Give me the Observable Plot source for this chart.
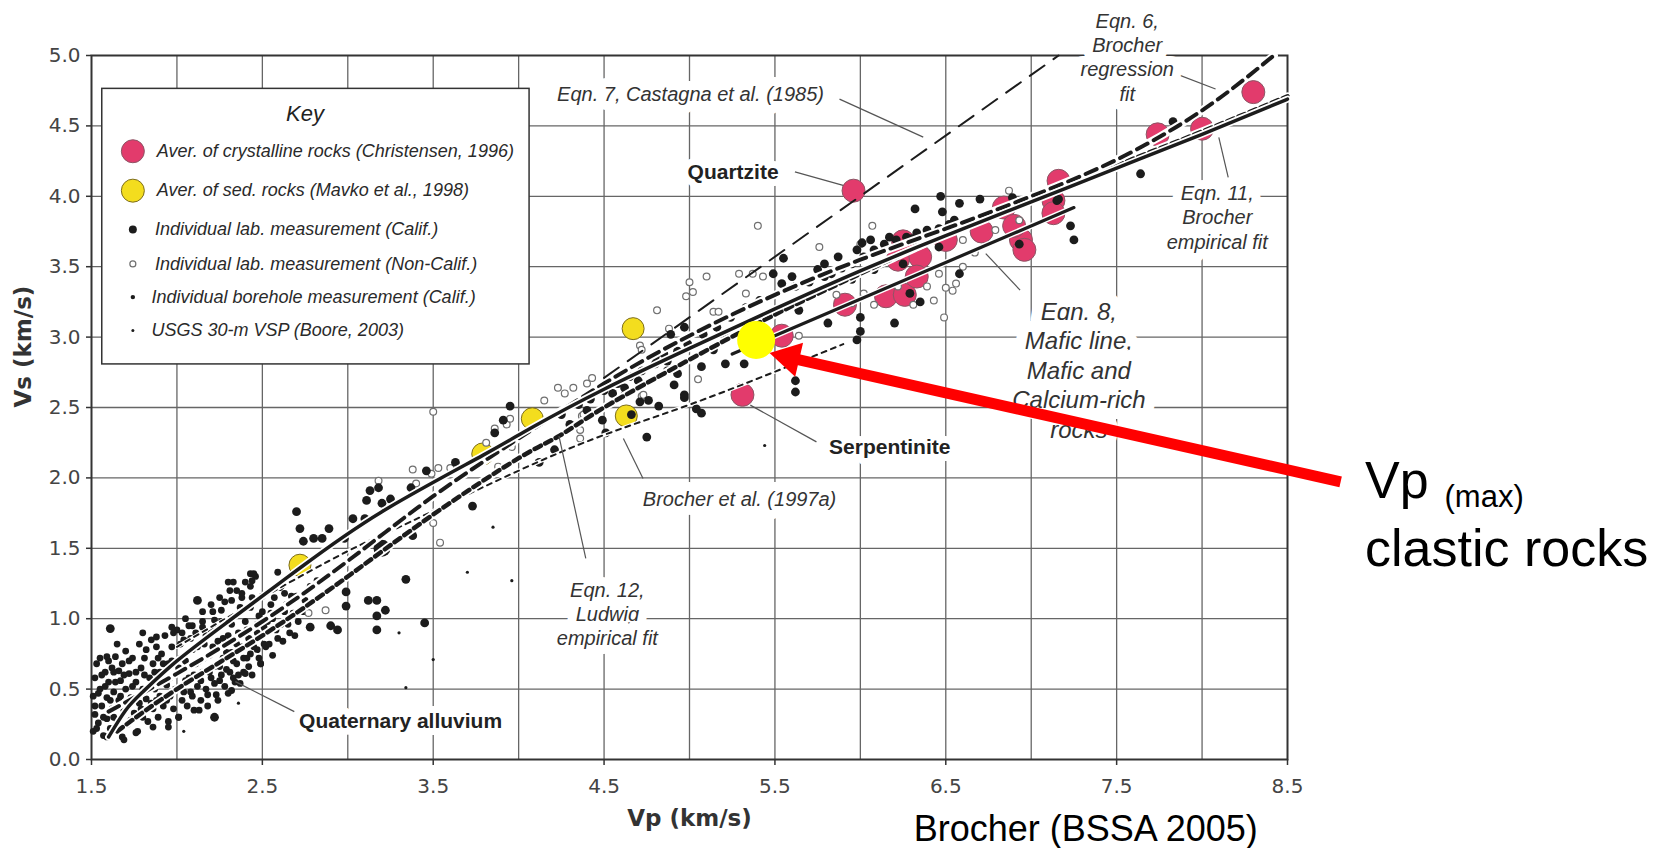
<!DOCTYPE html>
<html><head><meta charset="utf-8">
<script src="https://cdn.jsdelivr.net/npm/d3@7"></script>
<script src="https://cdn.jsdelivr.net/npm/@observablehq/plot@0.6"></script>
<style>
html,body{margin:0;padding:0;background:#fff;}
#chart svg{display:block;}
</style></head><body><div id="chart"></div>
<script>
// ---------- axes ----------
const xTickValues = [1.5,2.5,3.5,4.5,5.5,6.5,7.5,8.5];
const yTickValues = [0,0.5,1,1.5,2,2.5,3,3.5,4,4.5,5];
const xGridValues = [2,2.5,3,3.5,4,4.5,5,5.5,6,6.5,7,7.5,8];
const yGridValues = [0.5,1,1.5,2,2.5,3,3.5,4,4.5];

// ---------- point data [Vp, Vs] ----------
const crystalline = [[5.96,4.04],[5.31,2.59],[5.54,3.01],[5.91,3.23],[6.15,3.29],[6.26,3.30],[6.25,3.68],[6.35,3.57],[6.33,3.43],[6.50,3.69],[6.71,3.75],[6.84,3.92],[6.94,3.69],[6.96,3.62],[6.90,3.79],[6.22,3.55],[7.16,4.11],[7.13,3.97],[7.13,3.88],[7.74,4.44],[8.00,4.48],[8.30,4.74]];
const sedRocks = [[2.72,1.38],[3.79,2.17],[4.08,2.42],[4.67,3.06],[4.63,2.44]];
const clasticMax = [[5.39,2.98]];
const bigBlack = [[3.20,1.50]];
const califLab = [[6.47,4.00],[6.58,3.95],[6.70,3.98],[6.32,3.91],[6.48,3.89],[6.55,3.83],[6.89,3.99],[7.16,3.98],[7.23,3.79],[7.25,3.69],[6.93,3.66],[6.01,3.67],[5.55,3.56],[6.58,3.45],[6.20,3.10],[6.00,3.14],[6.00,3.04],[5.98,2.98],[5.81,3.10],[5.62,2.69],[5.62,2.61],[5.32,2.81],[5.21,2.81],[5.07,2.79],[4.93,2.74],[4.91,2.66],[4.82,2.51],[5.07,2.46],[4.97,2.57],[4.76,2.55],[4.49,2.41],[4.66,2.45],[6.29,3.31],[6.35,3.25],
[5.54,3.38],[5.62,3.36],[5.70,3.39],[5.79,3.43],[5.83,3.45],[5.89,3.49],[5.95,3.52],[6.02,3.57],[6.08,3.62],[6.14,3.66],[6.21,3.69],[6.27,3.71],[6.33,3.74],[6.39,3.76],[6.46,3.77],[6.52,3.80],[5.41,3.26],[5.33,3.21],[5.24,3.14],[5.16,3.07],[5.08,3.02],[4.99,2.95],[5.70,3.29],[5.83,3.36],[5.95,3.41],[6.08,3.48],[6.12,3.52],[6.21,3.57],[6.25,3.52],[6.33,3.64],[5.49,3.45],[5.60,3.43],[5.75,3.48],[5.87,3.57],[5.98,3.62],[6.06,3.69],[6.17,3.71],[6.30,3.70],[6.41,3.69],[6.46,3.64],[5.79,3.52],[5.64,3.19],[5.49,3.17],[5.37,3.10],[5.22,3.00],[5.14,2.91],[4.87,2.83],[4.80,2.81],[4.97,3.07],[4.89,3.02],[4.87,2.76],
[7.83,4.53],[7.64,4.16],[7.15,3.97],
[4.25,2.45],[4.35,2.52],[4.42,2.56],[4.50,2.62],[4.58,2.67],[4.65,2.72],[4.72,2.76],[4.80,2.86],[4.55,2.60],[4.40,2.48],[4.30,2.38],[4.62,2.64],[4.70,2.69],[4.85,2.88],[4.93,2.90],
[3.95,2.51],[3.91,2.41],[3.86,2.32],[3.63,2.11],[3.46,2.05],[3.37,1.93],[3.13,1.91],[3.18,1.93],[3.11,1.84],[3.20,1.82],[3.25,1.85],[3.03,1.71],[3.10,1.71],[2.70,1.76],[2.72,1.64],[2.80,1.57],[2.85,1.57],[2.89,1.64],[2.74,1.55],[2.98,1.57],[3.73,1.80],[3.38,1.59],[3.34,1.28],[2.99,1.19],[3.12,1.13],[3.17,1.13],[3.22,1.06],[3.17,1.02],[3.17,0.92],[3.45,0.97],[2.99,1.09],[2.90,0.95],[2.94,0.92],[2.78,0.94],[2.12,1.13],[1.61,0.93],[2.22,0.30],[4.12,2.11],[4.21,2.20],
[5.04,2.49],[4.75,2.29],[4.51,2.32],[4.71,2.54],[4.97,2.59]];
const nonCalifLab = [[5.40,3.79],[5.76,3.64],[6.07,3.79],[6.00,3.66],[6.87,4.04],[6.93,3.83],[6.79,3.76],[6.60,3.69],[6.67,3.60],[6.46,3.45],[6.60,3.50],[6.56,3.38],[6.50,3.35],[6.54,3.33],[6.49,3.14],[6.43,3.26],[6.31,3.23],[6.39,3.36],[6.08,3.23],[6.02,3.31],[5.95,3.24],[5.86,3.30],[5.64,3.01],[5.50,3.17],[5.33,3.31],[5.29,3.45],[5.37,3.45],[5.43,3.43],[5.10,3.43],[5.00,3.39],[5.02,3.32],[4.98,3.29],[4.81,3.19],[4.88,3.06],[5.14,3.18],[5.17,3.18],[4.71,2.94],[4.72,2.91],[5.05,2.70],[4.40,2.67],[4.43,2.71],[4.32,2.64],[4.72,2.58],[4.37,2.44],[6.22,3.36],
[3.18,1.98],[3.38,2.06],[3.40,1.96],[3.49,2.03],[3.53,2.07],[3.60,2.07],[3.50,2.47],[3.50,1.68],[3.54,1.54],[2.77,1.04],[2.87,1.06],[3.81,2.25],[3.86,2.35],[3.88,2.08],[3.93,2.38],[3.95,2.42],[3.96,2.22],
[4.36,2.28],[4.36,2.34],[4.38,2.45],[4.73,2.59],[4.62,2.59],[4.23,2.64],[4.27,2.60],[4.15,2.55]];
const borehole = [[1.51,0.20],[1.51,0.45],[1.52,0.32],[1.52,0.58],[1.53,0.68],[1.54,0.26],[1.55,0.50],[1.55,0.72],[1.56,0.38],[1.57,0.17],[1.58,0.62],[1.59,0.29],[1.59,0.44],[1.60,0.55],[1.60,0.70],
[1.61,0.22],[1.62,0.36],[1.63,0.48],[1.63,0.62],[1.64,0.73],[1.65,0.28],[1.66,0.42],[1.67,0.56],[1.68,0.16],[1.68,0.68],[1.69,0.35],[1.70,0.50],[1.70,0.77],
[1.71,0.25],[1.72,0.61],[1.73,0.44],[1.74,0.72],[1.75,0.33],[1.76,0.55],[1.77,0.20],[1.78,0.82],[1.78,0.40],[1.79,0.65],[1.80,0.30],[1.80,0.50],
[1.81,0.72],[1.82,0.43],[1.83,0.27],[1.84,0.58],[1.85,0.85],[1.86,0.36],[1.86,0.68],[1.87,0.50],[1.88,0.80],[1.89,0.30],[1.90,0.45],[1.90,0.62],
[1.91,0.75],[1.92,0.38],[1.93,0.88],[1.94,0.53],[1.95,0.27],[1.95,0.68],[1.96,0.45],[1.97,0.80],[1.98,0.36],[1.99,0.60],[2.00,0.50],[2.00,0.92],
[2.01,0.30],[2.02,0.72],[2.03,0.42],[2.04,0.85],[2.05,0.56],[2.06,0.38],[2.06,0.66],[2.07,0.95],[2.08,0.48],[2.09,0.78],[2.10,0.60],[2.10,0.35],
[2.11,0.90],[2.12,0.52],[2.13,0.70],[2.14,0.42],[2.15,0.98],[2.15,0.62],[2.16,0.82],[2.17,0.50],[2.18,0.38],[2.19,0.74],[2.20,0.58],[2.20,0.92],
[2.21,1.05],[2.22,0.66],[2.23,0.46],[2.24,0.84],[2.25,0.56],[2.26,0.98],[2.27,0.72],[2.28,0.52],[2.28,1.12],[2.29,0.64],[2.30,0.88],[2.30,0.47],
[2.31,1.20],[2.32,0.76],[2.33,0.58],[2.34,1.02],[2.35,0.68],[2.36,0.90],[2.37,0.54],[2.38,1.15],[2.38,0.80],[2.39,0.62],[2.40,0.98],[2.40,1.26],
[2.41,0.72],[2.42,0.86],[2.43,1.08],[2.44,0.60],[2.45,0.94],[2.46,1.30],[2.47,0.78],[2.48,1.02],[2.49,0.68],[2.50,0.88],[2.50,1.16],
[2.52,0.80],[2.53,0.98],[2.55,1.10],[2.56,0.74],[2.58,0.92],[2.60,1.22],[2.62,0.84],[2.63,1.05],[2.65,0.96],[2.67,1.16],[2.69,0.88],
[2.30,1.26],[2.33,1.26],[2.43,1.32],[2.44,1.27],[2.59,1.33],[2.61,1.23],[2.63,1.18],[2.70,1.16],[2.75,1.13],[2.78,1.23],[2.82,1.27],[2.55,1.04],[2.51,0.94],[2.47,0.90],[2.51,0.82],[2.49,0.68],[2.40,0.61],[2.34,0.55],[2.32,0.49],[2.43,0.75],[2.43,0.85],[2.24,0.42],[2.13,0.35],[2.01,0.30],[1.95,0.23],[1.86,0.23],[1.76,0.19],[1.69,0.14],[1.59,0.16],[1.59,0.73],[1.65,0.82],[1.80,0.90],[1.88,0.87],[1.97,0.94],[2.03,0.90],[2.09,0.95],[2.15,0.94],[2.22,0.99],[2.26,1.06],[2.32,1.13],[2.38,1.18],[2.43,1.23],[2.45,1.32],
[1.52,0.38],[1.53,0.22],[1.54,0.47],[1.56,0.60],[1.57,0.30],[1.58,0.52],[1.61,0.42],[1.62,0.65],[1.63,0.30],[1.64,0.55],[1.66,0.22],[1.66,0.63],[1.67,0.45],[1.69,0.60],[1.71,0.40],[1.72,0.70],[1.73,0.28],[1.74,0.52],[1.76,0.62],[1.77,0.45],[1.79,0.36],[1.81,0.60],[1.82,0.78],[1.83,0.50],[1.85,0.40],[1.87,0.62],[1.88,0.42],[1.89,0.72],[1.91,0.55],[1.92,0.68],[1.94,0.42],[1.96,0.58],[1.97,0.70],[1.99,0.50],[2.01,0.65],[2.02,0.82],[2.04,0.48],[2.05,0.70],[2.07,0.58],[2.08,0.86],[2.09,0.45],[2.11,0.68],[2.12,0.80],[2.14,0.56],[2.16,0.72],[2.17,0.88],[2.18,0.46],[2.19,0.62],[2.21,0.80],[2.22,0.54],[2.24,0.95],[2.25,0.66],[2.26,0.60],[2.27,0.86],[2.29,0.76],[2.31,0.62],[2.32,0.96],[2.33,0.70],[2.35,0.82],[2.36,0.60],[2.37,1.08],[2.39,0.72],[2.41,0.92],[2.42,0.66],[2.44,1.15],[2.45,0.80],[2.47,0.96],[2.48,0.72],[2.50,1.05],[2.52,0.90],[2.54,0.82],[2.56,1.00],[2.57,1.15],[2.59,0.86],[2.61,0.96],[2.64,1.10],[2.66,0.90],[2.68,1.04],[2.71,0.98],[2.74,1.05],[2.20,1.10],[2.25,1.15],[2.35,1.20],[2.15,1.05],[2.05,1.00],[1.98,0.90]];
const vsp = [[3.70,1.33],[3.96,1.27],[3.85,1.65],[3.30,0.90],[3.34,0.51],[3.50,0.71],[2.04,0.20],[2.36,0.40],[5.44,2.23]];

// ---------- fitted curves [Vp, Vs] ----------
const eqn11 = [[1.6,0.16],[1.7,0.35],[1.8,0.48],[2.0,0.70],[2.3,0.98],[2.72,1.36],[3.2,1.76],[3.79,2.16],[4.08,2.36],[4.5,2.63],[5.0,2.92],[5.5,3.20],[6.0,3.47],[6.5,3.72],[7.0,3.96],[7.5,4.20],[8.0,4.44],[8.5,4.69]];
const eqn6 = [[1.6,0.34],[2.0,0.61],[2.5,0.98],[3.0,1.41],[3.5,1.87],[4.0,2.28],[4.5,2.67],[5.0,3.01],[5.5,3.30],[6.0,3.55],[6.5,3.77],[7.0,4.00],[7.5,4.26],[8.0,4.61],[8.42,5.0]];
const eqn12 = [[1.65,0.20],[2.0,0.50],[2.5,0.88],[3.0,1.30],[3.5,1.74],[4.0,2.14],[4.24,2.30],[4.5,2.50],[5.0,2.84],[5.5,3.16],[6.0,3.45],[6.5,3.73],[7.0,3.98],[7.5,4.22],[8.0,4.46],[8.5,4.71]];
const brocher97 = [[2.0,0.80],[2.5,1.15],[3.0,1.48],[3.37,1.69],[4.24,2.18],[5.0,2.52],[5.9,2.95]];
const eqn8 = [[5.25,2.88],[7.25,3.92]];
const eqn7 = [[4.5,2.71],[7.16,5.0]];

// ---------- annotations ----------
const italicNotes = [
  {t:"Eqn. 7, Castagna et al. (1985)", vp:5.006, vs:4.733},
  {t:"Eqn. 6,\nBrocher\nregression\nfit", vp:7.562, vs:4.993},
  {t:"Eqn. 11,\nBrocher\nempirical fit", vp:8.089, vs:3.856},
  {t:"Brocher et al. (1997a)", vp:5.293, vs:1.855},
  {t:"Eqn. 12,\nLudwig\nempirical fit", vp:4.519, vs:1.039}
];
const maficNote = [{t:"Eqn. 8,\nMafic line,\nMafic and\nCalcium-rich\nrocks", vp:7.279, vs:2.77}];
const boldNotes = [
  {t:"Quartzite", vp:5.255, vs:4.173},
  {t:"Serpentinite", vp:6.172, vs:2.221},
  {t:"Quaternary alluvium", vp:3.309, vs:0.269}
];
const leaders = [
  {x1:5.878,y1:4.69,x2:6.368,y2:4.42},
  {x1:5.617,y1:4.173,x2:5.899,y2:4.078},
  {x1:7.825,y1:4.88,x2:8.079,y2:4.762},
  {x1:8.098,y1:4.419,x2:8.153,y2:4.135},
  {x1:6.734,y1:3.593,x2:6.935,y2:3.333},
  {x1:5.356,y1:2.517,x2:5.743,y2:2.256},
  {x1:4.613,y1:2.28,x2:4.728,y2:1.996},
  {x1:4.236,y1:2.297,x2:4.393,y2:1.429},
  {x1:2.342,y1:0.553,x2:2.687,y2:0.34}
];
// key (legend) box
const keyBox = [{x1:1.563,x2:4.064,y1:2.806,y2:4.763}];
const keyTitle = [{t:"Key", vp:2.75, vs:4.586}];
const keyLabels = ["Aver. of crystalline rocks (Christensen, 1996)","Aver. of sed. rocks (Mavko et al., 1998)","Individual lab. measurement (Calif.)","Individual lab. measurement (Non-Calif.)","Individual borehole measurement (Calif.)","USGS 30-m VSP (Boore, 2003)"];
const keyRowVs = [4.32,4.04,3.765,3.52,3.284,3.047];
const keyTextVp = [1.882,1.882,1.872,1.872,1.851,1.851];
const keySymbolVp = 1.742;
// red call-out
const arrowShaft = [{x1:8.811,y1:1.972,x2:5.584,y2:2.855}];
const arrowHead = [[5.584,2.855]];
const calloutBig = [{t:"Vp", vp:8.954, vs:1.855},{t:"clastic rocks", vp:8.954, vs:1.375}];
const calloutSub = [{t:"(max)", vp:9.419, vs:1.79}];
const sourceNote = [{t:"Brocher (BSSA 2005)", vp:6.312, vs:-0.576}];

// ---------- build ----------
const P = a => a.map(([vp,vs]) => ({vp, vs}));
const keyRows = keyLabels.map((t,i) => ({t, vp:keyTextVp[i], vs:keyRowVs[i]}));
const keySym = i => [{vp:keySymbolVp, vs:keyRowVs[i]}];

const ink = "#1c1c1c";
const pink = "#e23b6c", pinkEdge = "#8c5565";
const yel = "#f3dd1e", yelEdge = "#7d6d1c";
const sans = "Liberation Sans";

function curve(data, opts, casing) {
  return [
    Plot.line(P(data), {x:"vp", y:"vs", curve:"natural", stroke:"white", strokeWidth:casing, strokeLinecap:"round"}),
    Plot.line(P(data), {x:"vp", y:"vs", curve:"natural", stroke:ink, ...opts})
  ];
}

const chart = Plot.plot({
  width:1657, height:848,
  marginLeft:91, marginRight:370, marginTop:55, marginBottom:89,
  x:{domain:[1.5,8.5]},
  y:{domain:[0,5]},
  style:{background:"white", fontFamily:"DejaVu Sans"},
  marks:[
    Plot.gridX(xGridValues, {stroke:"#666", strokeOpacity:1, strokeWidth:1.3}),
    Plot.gridY(yGridValues, {stroke:"#666", strokeOpacity:1, strokeWidth:1.3}),
    Plot.frame({stroke:"#333", strokeWidth:2}),
    Plot.axisX(xTickValues, {tickSize:6, tickPadding:13, fontSize:20, fill:"#444", stroke:"#333", strokeWidth:1.5, tickFormat:d=>d.toFixed(1), label:null}),
    Plot.axisY(yTickValues, {tickSize:5, tickPadding:6, fontSize:20, fill:"#444", stroke:"#333", strokeWidth:1.5, tickFormat:d=>d.toFixed(1), label:null}),
    Plot.text(["Vp (km/s)"], {frameAnchor:"bottom", lineAnchor:"bottom", dy:66, fontSize:23, fontWeight:"bold", fill:"#333", fontFamily:"DejaVu Sans"}),
    Plot.text(["Vs (km/s)"], {frameAnchor:"left", dx:-68, rotate:-90, fontSize:23, fontWeight:"bold", fill:"#333", fontFamily:"DejaVu Sans"}),

    // averages
    Plot.dot(P(crystalline), {x:"vp", y:"vs", r:11.5, fill:pink, stroke:pinkEdge, strokeWidth:1}),
    Plot.dot(P(sedRocks), {x:"vp", y:"vs", r:11, fill:yel, stroke:yelEdge, strokeWidth:1}),
    // individual measurements
    Plot.dot(P(borehole), {x:"vp", y:"vs", r:3.4, fill:ink}),
    Plot.dot(P(vsp), {x:"vp", y:"vs", r:1.6, fill:ink}),
    Plot.dot(P(nonCalifLab), {x:"vp", y:"vs", r:3.4, fill:"white", stroke:"#6f6f6f", strokeWidth:1.2}),
    Plot.dot(P(califLab), {x:"vp", y:"vs", r:4.4, fill:ink}),
    Plot.dot(P(bigBlack), {x:"vp", y:"vs", r:8.5, fill:ink}),

    // fitted relations
    ...curve(brocher97, {strokeWidth:2, strokeDasharray:"5,5"}, 4),
    ...curve(eqn12, {strokeWidth:4.5, strokeDasharray:"7,5"}, 8),
    ...curve(eqn6, {strokeWidth:4, strokeDasharray:"12,7"}, 8),
    ...curve(eqn11, {strokeWidth:3.5}, 7),
    ...curve(eqn8, {strokeWidth:3.2}, 6),
    Plot.line(P(eqn7), {x:"vp", y:"vs", stroke:ink, strokeWidth:2, strokeDasharray:"18,11"}),

    // leader lines and labels
    Plot.link(leaders, {x1:"x1", y1:"y1", x2:"x2", y2:"y2", stroke:"#555", strokeWidth:1.2}),
    Plot.text(italicNotes, {x:"vp", y:"vs", text:"t", fontSize:20, fontStyle:"italic", fontFamily:sans, fill:"#333", stroke:"white", strokeWidth:18, strokeLinejoin:"round", lineHeight:1.22}),
    Plot.text(maficNote, {x:"vp", y:"vs", text:"t", fontSize:24, fontStyle:"italic", fontFamily:sans, fill:"#333", stroke:"white", strokeWidth:22, strokeLinejoin:"round", lineHeight:1.23}),
    Plot.text(boldNotes, {x:"vp", y:"vs", text:"t", fontSize:21, fontWeight:"bold", fontFamily:sans, fill:"#222", stroke:"white", strokeWidth:14, strokeLinejoin:"round"}),

    // key
    Plot.rect(keyBox, {x1:"x1", x2:"x2", y1:"y1", y2:"y2", fill:"white", stroke:"#333", strokeWidth:1.5}),
    Plot.text(keyTitle, {x:"vp", y:"vs", text:"t", fontSize:22, fontStyle:"italic", fontFamily:sans, fill:"#222"}),
    Plot.dot(keySym(0), {x:"vp", y:"vs", r:11.5, fill:pink, stroke:pinkEdge, strokeWidth:1}),
    Plot.dot(keySym(1), {x:"vp", y:"vs", r:11.5, fill:yel, stroke:yelEdge, strokeWidth:1}),
    Plot.dot(keySym(2), {x:"vp", y:"vs", r:4, fill:ink}),
    Plot.dot(keySym(3), {x:"vp", y:"vs", r:3, fill:"white", stroke:"#6f6f6f", strokeWidth:1.2}),
    Plot.dot(keySym(4), {x:"vp", y:"vs", r:2.2, fill:ink}),
    Plot.dot(keySym(5), {x:"vp", y:"vs", r:1.5, fill:ink}),
    Plot.text(keyRows, {x:"vp", y:"vs", text:"t", textAnchor:"start", fontSize:18, fontStyle:"italic", fontFamily:sans, fill:"#2a2a2a"}),

    // red call-out
    Plot.dot(P(clasticMax), {x:"vp", y:"vs", r:19, fill:"#ffff00"}),
    Plot.link(arrowShaft, {x1:"x1", y1:"y1", x2:"x2", y2:"y2", stroke:"#ff0000", strokeWidth:11}),
    Plot.dot(P(arrowHead), {x:"vp", y:"vs", r:13, symbol:"triangle", fill:"#ff0000", rotate:-77}),
    Plot.text(calloutBig, {x:"vp", y:"vs", text:"t", textAnchor:"start", lineAnchor:"bottom", fontSize:52, fontFamily:sans, fill:"black"}),
    Plot.text(calloutSub, {x:"vp", y:"vs", text:"t", textAnchor:"start", lineAnchor:"bottom", fontSize:31, fontFamily:sans, fill:"black"}),
    Plot.text(sourceNote, {x:"vp", y:"vs", text:"t", textAnchor:"start", lineAnchor:"bottom", fontSize:36, fontFamily:sans, fill:"black"})
  ]
});
document.getElementById("chart").append(chart);
</script>
</body></html>
